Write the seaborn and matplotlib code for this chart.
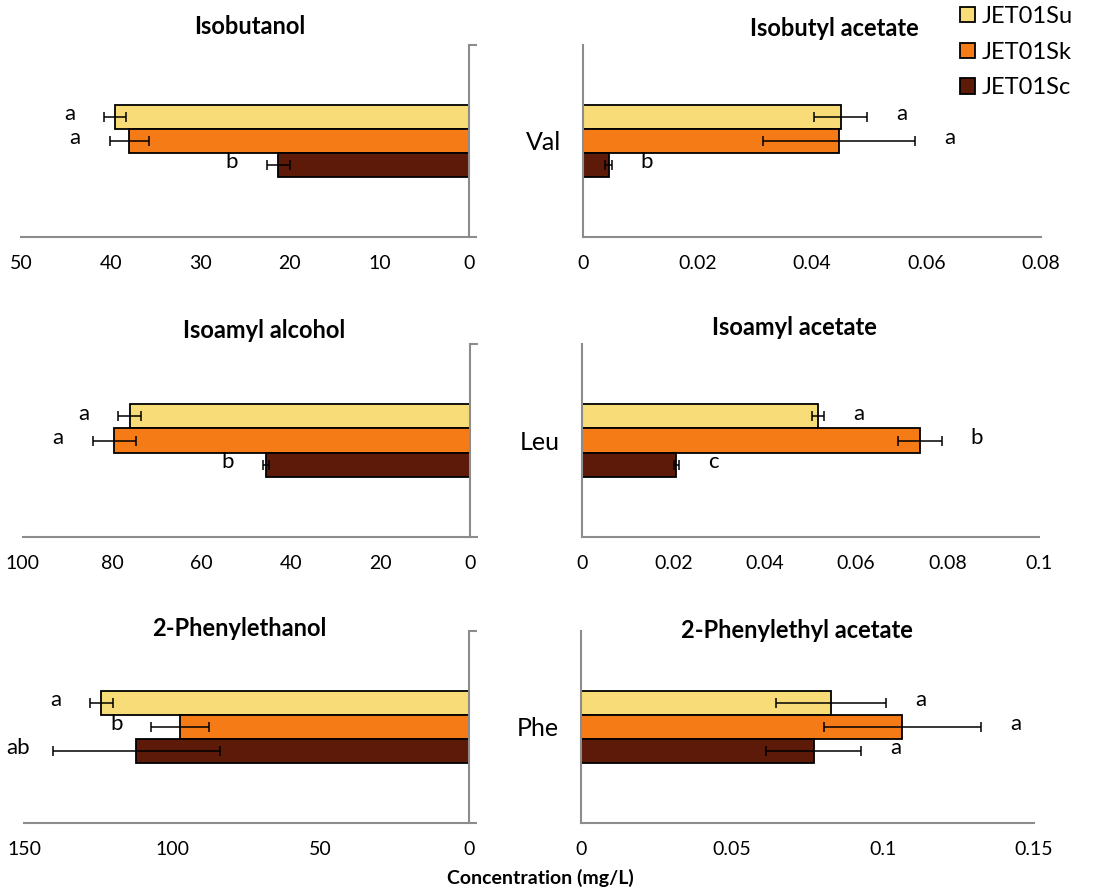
import matplotlib
matplotlib.use('Agg')
import matplotlib.pyplot as plt
import matplotlib.ticker as mtick
import numpy as np
import pandas as pd
import seaborn as sns

# strains (hue) and their colours
strains = ['JET01Su', 'JET01Sk', 'JET01Sc']
strain_colors = ['#F8DC78', '#F47B16', '#5E1A08']

amino_acids = ['Val', 'Leu', 'Phe']
alcohols = ['Isobutanol', 'Isoamyl alcohol', '2-Phenylethanol']
acetates = ['Isobutyl acetate', 'Isoamyl acetate', '2-Phenylethyl acetate']

# concentrations in mg/L, one row per amino acid, order = strains
alcohol_mean = [[39.5, 37.9, 21.3], [76.1, 79.5, 45.7], [124.0, 97.4, 112.2]]
alcohol_sd = [[1.2, 2.2, 1.3], [2.6, 4.9, 0.65], [3.8, 9.8, 28.1]]
alcohol_letters = [['a', 'a', 'b'], ['a', 'a', 'b'], ['a', 'b', 'ab']]

acetate_mean = [[0.0450, 0.0447, 0.0045], [0.0517, 0.0740, 0.0206], [0.0830, 0.1065, 0.0771]]
acetate_sd = [[0.0046, 0.0133, 0.0006], [0.0013, 0.0049, 0.0006], [0.0182, 0.0261, 0.0157]]
acetate_letters = [['a', 'a', 'b'], ['a', 'b', 'c'], ['a', 'a', 'a']]

alcohol_xmax = [50, 100, 150]
alcohol_xstep = [10, 20, 50]
acetate_xmax = [0.08, 0.1, 0.15]
acetate_xstep = [0.02, 0.02, 0.05]

xlabel = 'Concentration (mg/L)'

# layout in pixels of the 1099x890 canvas
W, H = 1099, 890
left_boxes = [(21, 45, 469, 237), (22.7, 344.3, 470.3, 536.7), (24.3, 630.7, 468.7, 823.3)]
right_boxes = [(583, 45, 1041, 237), (582.3, 344.3, 1038.7, 536.7), (580.7, 630.7, 1033.7, 823.3)]
left_title_xy = [(250, 26), (264, 330), (239, 629)]
right_title_xy = [(834, 28), (794, 328), (797, 630)]
GRAY = '#8C8C8C'

sns.set_style('white')
plt.rcParams['font.family'] = ['Lato', 'DejaVu Sans']
plt.rcParams['text.color'] = 'black'
plt.rcParams['xtick.labelcolor'] = 'black'
plt.rcParams['ytick.labelcolor'] = 'black'


def px_rect(box):
    x0, y0, x1, y1 = box
    return [x0 / W, 1 - y1 / H, (x1 - x0) / W, (y1 - y0) / H]


def draw_panel(ax, aa, means, sds, letters, xmax, xstep, flip):
    df = pd.DataFrame({'aa': aa, 'strain': strains, 'conc': means})
    sns.barplot(data=df, x='conc', y='aa', hue='strain', hue_order=strains,
                palette=strain_colors, saturation=1, orient='h', width=0.375,
                edgecolor='black', linewidth=1.3, errorbar=None,
                legend=False, ax=ax)
    off = -25 if flip else 25
    for cont, sd, let in zip(ax.containers, sds, letters):
        bar = cont[0]
        xv = bar.get_width()
        yc = bar.get_y() + bar.get_height() / 2
        ax.errorbar(xv, yc, xerr=sd, fmt='none', ecolor='black',
                    elinewidth=1.1, capsize=3.8, capthick=1.1, zorder=5)
        ax.annotate(let, (xv + sd, yc), xytext=(off, 2), textcoords='offset points',
                    ha='center', va='center', fontsize=16)

    ax.set_ylim(0.5, -0.5)
    ax.set_xticks(np.arange(0, xmax + xstep / 2, xstep))
    ax.xaxis.set_major_formatter(mtick.FormatStrFormatter('%g'))
    if flip:
        ax.set_xlim(xmax, 0)
        ax.yaxis.tick_right()
        ax.spines[['left', 'top']].set_visible(False)
        ax.set_yticks([])
    else:
        ax.set_xlim(0, xmax)
        ax.spines[['right', 'top']].set_visible(False)
        ax.set_yticks([0], labels=[aa])
    ax.set_yticks([-0.5, 0.5], minor=True)
    for s in ['left', 'right', 'bottom']:
        ax.spines[s].set_color(GRAY)
        ax.spines[s].set_linewidth(1.5)
    ax.tick_params(axis='x', length=6, width=1.5, color=GRAY, labelsize=14, pad=7, direction='out')
    ax.tick_params(axis='y', which='major', length=0, labelsize=18, pad=16)
    ax.tick_params(axis='y', which='minor', length=6, width=1.5, color=GRAY, direction='out')
    ax.set_xlabel('')
    ax.set_ylabel('')


fig = plt.figure(figsize=(W / 100, H / 100), dpi=100)

legend_ax = None
for i, aa in enumerate(amino_acids):
    axl = fig.add_axes(px_rect(left_boxes[i]))
    draw_panel(axl, aa, alcohol_mean[i], alcohol_sd[i], alcohol_letters[i],
               alcohol_xmax[i], alcohol_xstep[i], flip=True)
    axr = fig.add_axes(px_rect(right_boxes[i]))
    draw_panel(axr, aa, acetate_mean[i], acetate_sd[i], acetate_letters[i],
               acetate_xmax[i], acetate_xstep[i], flip=False)
    if legend_ax is None:
        legend_ax = axr

    tx, ty = left_title_xy[i]
    fig.text(tx / W, 1 - ty / H, alcohols[i], ha='center', va='center',
             fontsize=17, fontweight='bold')
    tx, ty = right_title_xy[i]
    fig.text(tx / W, 1 - ty / H, acetates[i], ha='center', va='center',
             fontsize=17, fontweight='bold')

fig.text(540 / W, 1 - 878 / H, xlabel, ha='center', va='center',
         fontsize=14, fontweight='bold')

handles = [c[0] for c in legend_ax.containers]
fig.legend(handles, strains, loc='upper left', bbox_to_anchor=(960 / W, 1 - 6 / H),
           frameon=False, fontsize=17, handlelength=0.62, handleheight=0.62,
           handletextpad=0.3, labelspacing=0.62, borderpad=0, borderaxespad=0)

fig.savefig('out.png', dpi=100, facecolor='white')
